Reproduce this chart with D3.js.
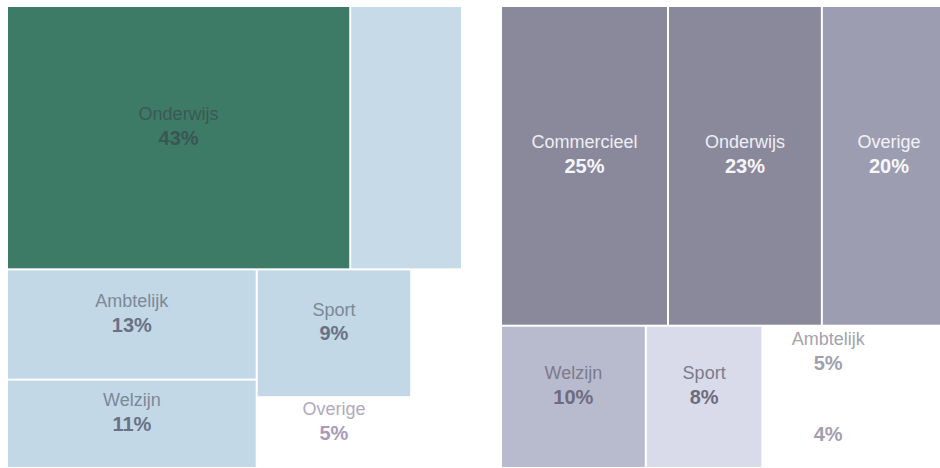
<!DOCTYPE html>
<html>
<head>
<meta charset="utf-8">
<script src="https://cdn.jsdelivr.net/npm/d3@7"></script>
<style>
  html, body { margin: 0; padding: 0; background: #ffffff; }
  svg { display: block; }
</style>
</head>
<body>
<svg id="chart" width="940" height="468"></svg>
<script>
// ---- data: left treemap ----
const leftNames  = ["Onderwijs", "Commercieel", "Ambtelijk", "Welzijn", "Sport", "Overige", "Onbekend"];
const leftValues = [43.0, 14.0, 13.1, 10.5, 9.4, 5.2, 4.8];
const leftShowName = [true, false, true, true, true, true, false];
const leftShowPct  = [true, false, true, true, true, true, false];

// ---- data: right treemap ----
const rightNames  = ["Commercieel", "Onderwijs", "Overige", "Welzijn", "Sport", "Ambtelijk", "Onbekend", "Rest"];
const rightValues = [25.4, 23.4, 20.4, 9.8, 7.9, 4.6, 4.3, 4.2];
const rightShowName = [true, true, true, true, true, true, false, false];
const rightShowPct  = [true, true, true, true, true, true, true, false];

// ---- styles ----
const leftFill     = ["#3e7b66", "#c6dbe7", "#c3d8e6", "#c3d8e6", "#c3d8e6", "#ffffff", "#ffffff"];
const leftNameCol  = ["#3b5853", "#c6dbe7", "#7b8898", "#7b8898", "#7b8898", "#b1a9bf", "#ffffff"];
const leftPctCol   = ["#3a5552", "#c6dbe7", "#687284", "#687284", "#687284", "#a79dba", "#ffffff"];

const rightFill    = ["#8a899c", "#8a899c", "#9d9db1", "#b8bbcd", "#d9dbea", "#ffffff", "#ffffff", "#ffffff"];
const rightNameCol = ["#eeeef4", "#eeeef4", "#f2f2f7", "#7c7a8b", "#7c7a8b", "#a4a3ae", "#a4a3ae", "#ffffff"];
const rightPctCol  = ["#f6f6fa", "#f6f6fa", "#f8f8fb", "#6f6b7e", "#6f6b7e", "#a19fad", "#a19fad", "#ffffff"];

const svg = d3.select("#chart");

function drawTreemap(names, values, showName, showPct, fills, nameCols, pctCols, x, y, w, h) {
  const items = names.map((n, i) => ({ i, name: n, value: values[i] }));
  const root = d3.hierarchy({ children: items }).sum(d => d.value || 0);
  d3.treemap()
    .tile(d3.treemapSquarify)
    .size([w, h])
    .paddingInner(2)
    .round(false)(root);

  const g = svg.append("g").attr("transform", `translate(${x},${y})`);
  const cell = g.selectAll("g.cell")
    .data(root.leaves())
    .join("g")
    .attr("class", "cell");

  cell.append("rect")
    .attr("x", d => d.x0)
    .attr("y", d => d.y0)
    .attr("width", d => Math.max(0, d.x1 - d.x0))
    .attr("height", d => Math.max(0, d.y1 - d.y0))
    .attr("fill", d => fills[d.data.i]);

  cell.filter(d => showName[d.data.i])
    .append("text")
    .attr("x", d => (d.x0 + d.x1) / 2)
    .attr("y", d => (d.y0 + d.y1) / 2 - 24)
    .attr("dy", "0.36em")
    .attr("text-anchor", "middle")
    .attr("font-family", "'Liberation Sans', Arial, sans-serif")
    .attr("font-size", 18)
    .attr("fill", d => nameCols[d.data.i])
    .text(d => d.data.name);

  cell.filter(d => showPct[d.data.i])
    .append("text")
    .attr("x", d => (d.x0 + d.x1) / 2)
    .attr("y", d => (d.y0 + d.y1) / 2)
    .attr("dy", "0.36em")
    .attr("text-anchor", "middle")
    .attr("font-family", "'Liberation Sans', Arial, sans-serif")
    .attr("font-size", 20)
    .attr("font-weight", "bold")
    .attr("fill", d => pctCols[d.data.i])
    .text(d => Math.round(d.data.value) + "%");
}

drawTreemap(leftNames, leftValues, leftShowName, leftShowPct, leftFill, leftNameCol, leftPctCol, 8, 7, 453, 460);
drawTreemap(rightNames, rightValues, rightShowName, rightShowPct, rightFill, rightNameCol, rightPctCol, 502, 7, 453, 460);
</script>
</body>
</html>
